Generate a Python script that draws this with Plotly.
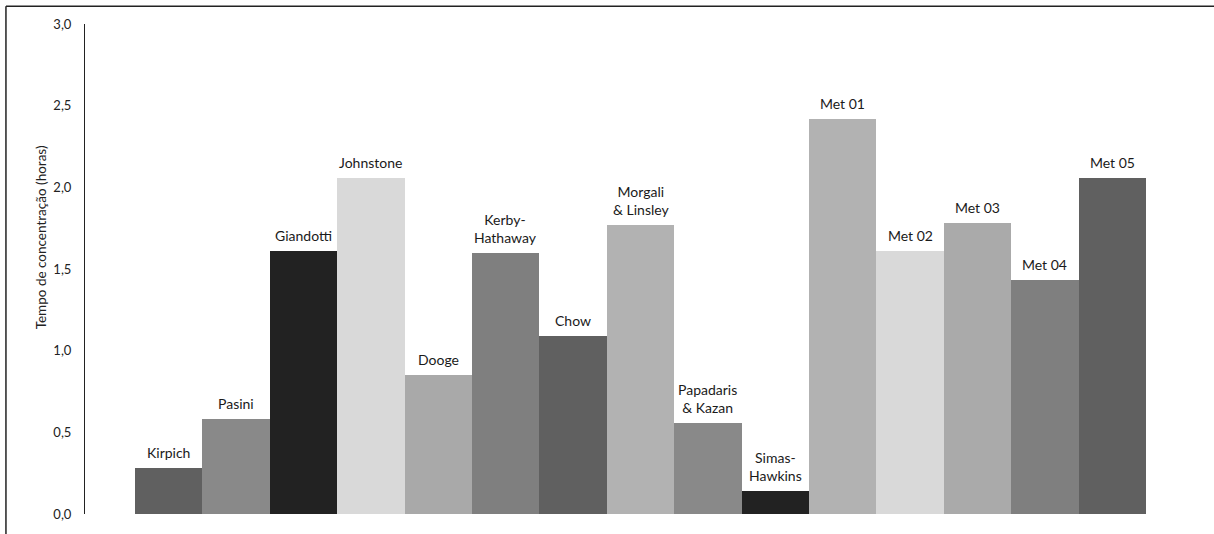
import plotly.graph_objects as go

labels = ["Kirpich", "Pasini", "Giandotti", "Johnstone", "Dooge", "Kerby-<br>Hathaway", "Chow",
          "Morgali<br>& Linsley", "Papadaris<br>& Kazan", "Simas-<br>Hawkins",
          "Met 01", "Met 02", "Met 03", "Met 04", "Met 05"]
values = [0.28, 0.58, 1.61, 2.06, 0.85, 1.60, 1.09, 1.77, 0.56, 0.14, 2.42, 1.61, 1.78, 1.43, 2.06]
colors = ["#606060", "#898989", "#222222", "#d9d9d9", "#a9a9a9", "#7f7f7f", "#606060",
          "#b2b2b2", "#898989", "#222222", "#b2b2b2", "#d9d9d9", "#aaaaaa", "#7f7f7f", "#606060"]
yticks = [0, 0.5, 1.0, 1.5, 2.0, 2.5, 3.0]
yticklabels = ["0,0", "0,5", "1,0", "1,5", "2,0", "2,5", "3,0"]
ytitle = "Tempo de concentração (horas)"

xpos = list(range(len(labels)))

fig = go.Figure(go.Bar(x=xpos, y=values, marker=dict(color=colors, line=dict(width=0)), width=1.0))

for x, v, lab in zip(xpos, values, labels):
    fig.add_annotation(x=x, y=v, text=lab, showarrow=False, yanchor="bottom", yshift=5,
                       font=dict(family="Lato", size=14, color="#1a1a1a"))

fig.add_annotation(xref="paper", yref="paper", x=-0.0395, y=0.5645, text=ytitle, textangle=-90,
                   showarrow=False, xanchor="center", yanchor="middle",
                   font=dict(family="Lato", size=13.5, color="#222222"))

# outer frame (left and top edges)
fig.add_shape(type="line", xref="paper", yref="paper", x0=-0.0709, x1=-0.0709, y0=-0.5, y1=1.0363,
              line=dict(color="#222222", width=1.5))
fig.add_shape(type="line", xref="paper", yref="paper", x0=-0.0709, x1=1.5, y0=1.0363, y1=1.0363,
              line=dict(color="#222222", width=1.5))

fig.update_layout(
    width=1214, height=534,
    margin=dict(l=85, r=14, t=24, b=14),
    paper_bgcolor="white", plot_bgcolor="white",
    showlegend=False,
    bargap=0,
    font=dict(family="Lato", color="#222222"),
    xaxis=dict(range=[-1.242, 15.30], showticklabels=False, showgrid=False, zeroline=False,
               showline=False, ticks=""),
    yaxis=dict(range=[0, 3.0], tickvals=yticks, ticktext=yticklabels, showgrid=False,
               zeroline=False, showline=True, linecolor="#222222", linewidth=1, ticks="",
               ticklabelstandoff=10, tickfont=dict(size=13, color="#222222")),
)

fig.write_html("out.html")
